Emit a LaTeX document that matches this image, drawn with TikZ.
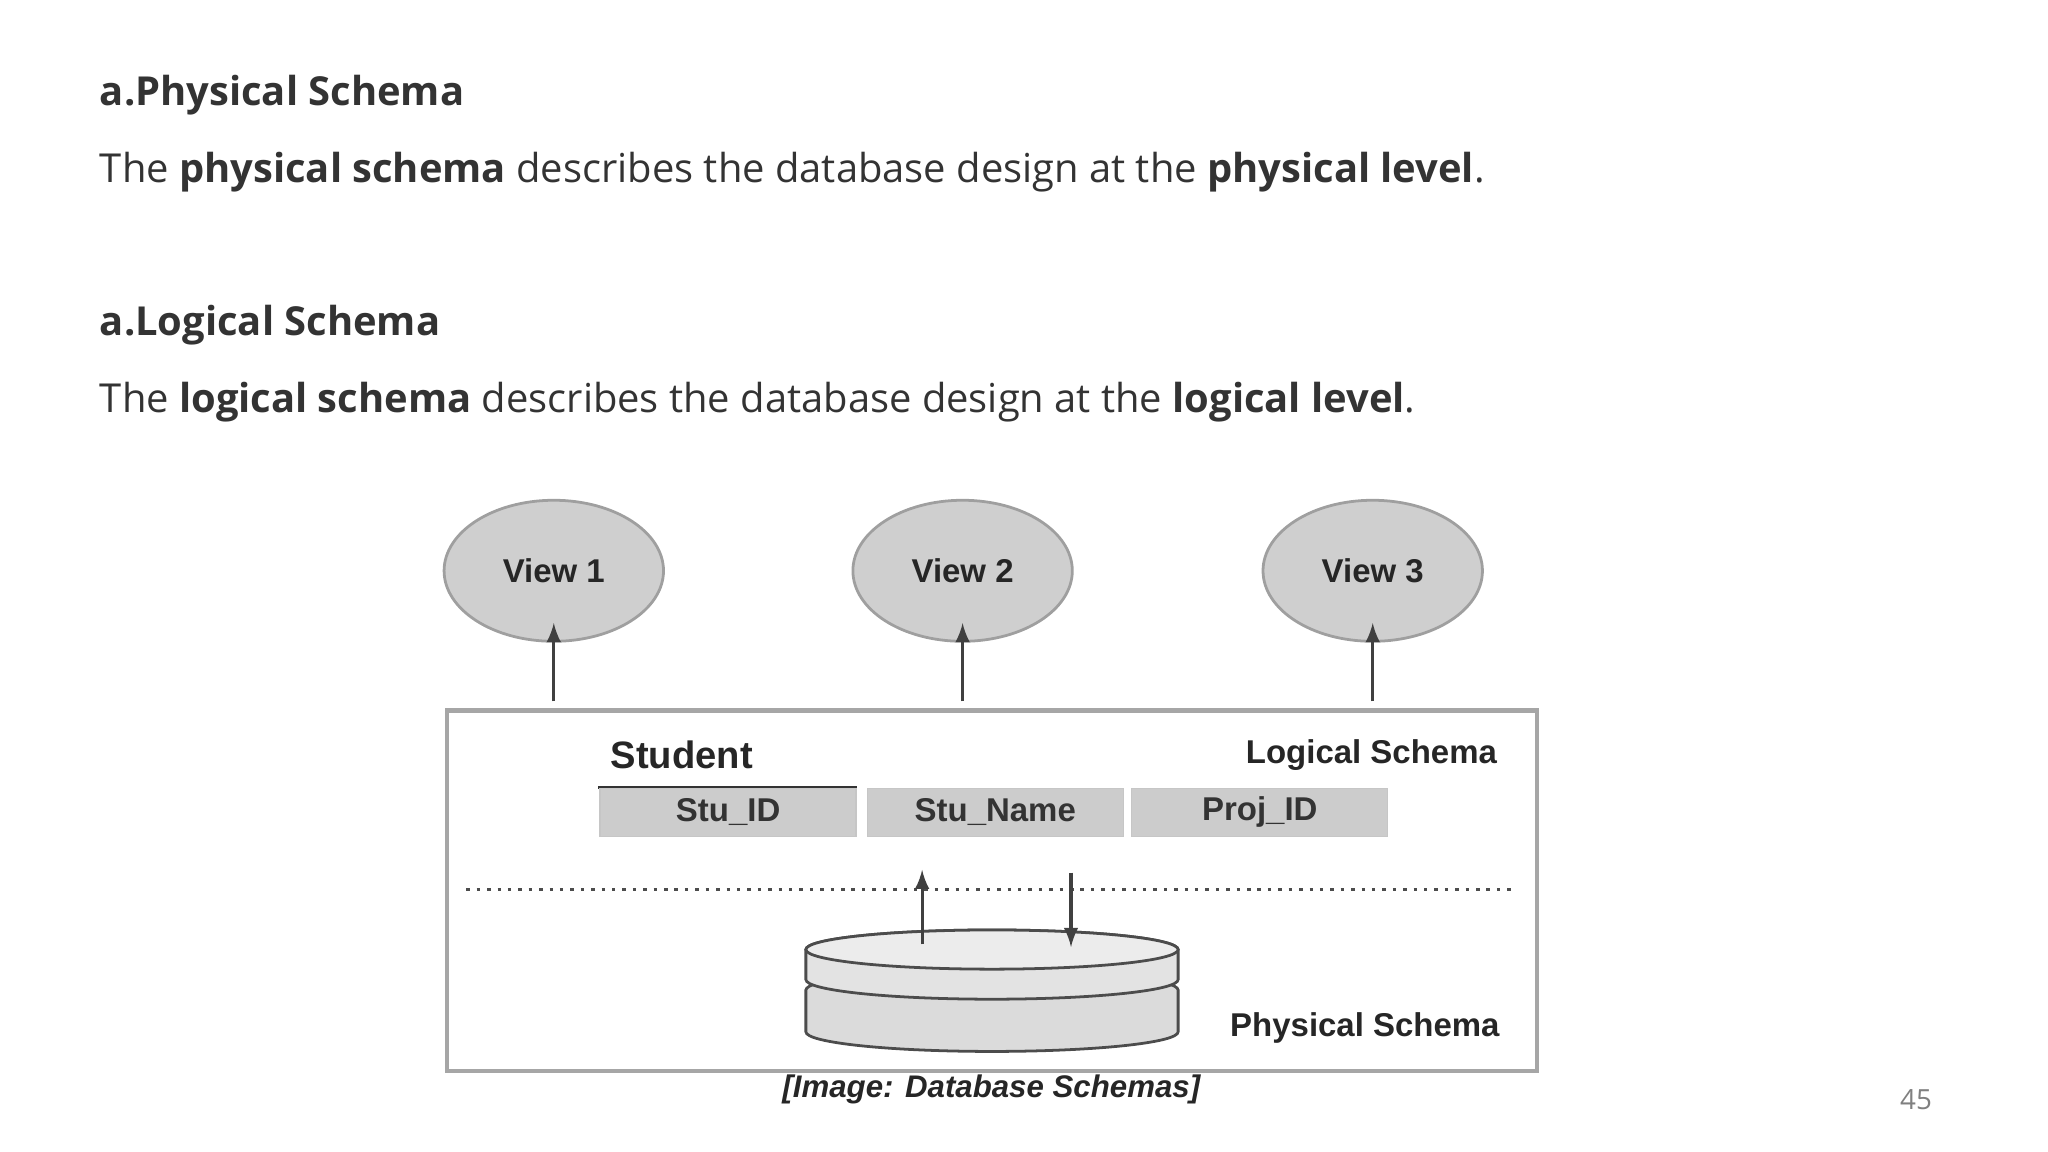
\documentclass[tikz,border=0pt]{standalone}
\usepackage{fontspec}
\setmainfont{Open Sans}
\newfontfamily\diag{Liberation Sans}
\begin{document}
\begin{tikzpicture}[x=0.01323cm,y=-0.01323cm,
  lbl/.style={font=\diag\bfseries\fontsize{9.5}{11}\selectfont,text=black!85},
  fld/.style={fill=gray!40,draw=gray!45,minimum width=196*0.01323cm,minimum height=37*0.01323cm,inner sep=0,font=\diag\bfseries\fontsize{9.5}{11}\selectfont,text=black!80},
  arr/.style={-latex,line width=0.9pt,black!75},
  disc/.style={draw=gray!60!black,line width=0.8pt},
  txt/.style={anchor=west,text=black!80,inner sep=0}]
\useasboundingbox (0,0) rectangle (1568,882);
\node[txt,font=\bfseries\fontsize{11.5}{14}\selectfont] (h1) at (76,73) {a.Physical Schema};
\node[txt,font=\fontsize{11.5}{14}\selectfont] (p1) at (76,132) {The \textbf{physical schema} describes the database design at the \textbf{physical level}.};
\node[txt,font=\bfseries\fontsize{11.5}{14}\selectfont] (h2) at (76,249) {a.Logical Schema};
\node[txt,font=\fontsize{11.5}{14}\selectfont] (p2) at (76,308) {The \textbf{logical schema} describes the database design at the \textbf{logical level}.};
\foreach \i/\x in {1/424,2/737,3/1051}{
  \draw[draw=gray!75,fill=gray!38,line width=0.8pt] (\x,437) ellipse (84 and 54);
  \node[lbl] (v\i) at (\x,437) {View \i};
  \coordinate (b\i) at (\x,537);
  \coordinate (t\i) at (\x,477);
  \draw[arr] (b\i) -- (t\i);
}
\draw[gray!70,line width=1.2pt] (342,544) rectangle (1177,820);
\node[lbl,font=\diag\bfseries\fontsize{11}{13}\selectfont,anchor=south] (st) at (522,598) {Student};
\draw[black!80,line width=1pt] (458,603) -- (656,603);
\node[fld] (f1) at (557.5,622) {Stu\_ID};
\node[fld] (f2) at (762,622) {Stu\_Name};
\node[fld] (f3) at (964.5,622) {Proj\_ID};
\node[lbl] (ls) at (1050,578) {Logical Schema};
\draw[black!70,dotted,line width=1pt] (357,681) -- (1160,681);
% cylinder: lower disc
\draw[disc,fill=gray!28] (617,758) -- (617,790) arc[start angle=180,end angle=0,x radius=142.5,y radius=15] -- (902,758) arc[start angle=0,end angle=-180,x radius=142.5,y radius=15] -- cycle;
% upper disc
\draw[disc,fill=gray!22] (617,727) -- (617,750) arc[start angle=180,end angle=0,x radius=142.5,y radius=15] -- (902,727) arc[start angle=0,end angle=-180,x radius=142.5,y radius=15] -- cycle;
\draw[disc,fill=gray!15] (759.5,727) ellipse (142.5 and 15);
\coordinate (c1) at (706,723); \coordinate (c2) at (706,666);
\coordinate (c3) at (820,668); \coordinate (c4) at (820,725);
\draw[arr] (c1) -- (c2);
\draw[arr] (c3) -- (c4);
\node[lbl] (ps) at (1045,787) {Physical Schema};
\node[lbl,font=\diag\bfseries\itshape\fontsize{9}{11}\selectfont] (cap) at (759,834) {[Image: Database Schemas]};
\node[text=gray,font=\fontsize{8}{10}\selectfont] (pg) at (1467,842) {45};
\end{tikzpicture}
\end{document}
